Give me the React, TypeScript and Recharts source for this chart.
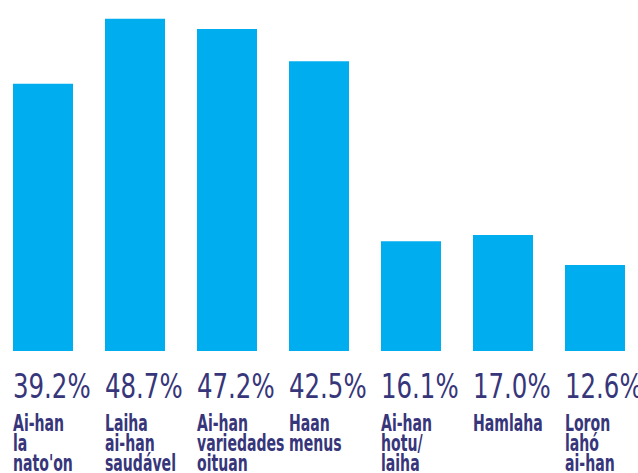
import { BarChart, Bar, XAxis, YAxis } from "recharts";

const categories = ["nato", "saudavel", "variedades", "menus", "hotu", "hamlaha", "loron"];
const shares = [39.2, 48.7, 47.2, 42.5, 16.1, 17.0, 12.6];
const labelLines = [
  ["Ai-han", "la", "nato'on"],
  ["Laiha", "ai-han", "saudável"],
  ["Ai-han", "variedades", "oituan"],
  ["Haan", "menus"],
  ["Ai-han", "hotu/", "laiha"],
  ["Hamlaha"],
  ["Loron", "lahó", "ai-han"],
];

const data = categories.map((c, i) => ({ key: c, value: shares[i], lines: labelLines[i] }));

const BAR_W = 60;
const TEXT = "#37367a";
const FONT = "'DejaVu Sans Condensed', 'Liberation Sans Narrow', sans-serif";

// the source uses a very narrow typeface, so squeeze the text horizontally
function Tick(props: any) {
  const { x, y, index } = props;
  const d = data[index];
  const left = x - BAR_W / 2;
  return (
    <g>
      <text
        transform={`translate(${left},${y + 47}) scale(0.8,1)`}
        fontSize={34}
        fill={TEXT}
        fontFamily={FONT}
        textAnchor="start"
      >
        {d.value.toFixed(1)}%
      </text>
      {d.lines.map((ln, i) => (
        <text
          key={i}
          transform={`translate(${left},${y + 80 + i * 20}) scale(0.68,1)`}
          fontSize={23}
          fontWeight="bold"
          fill={TEXT}
          fontFamily={FONT}
          textAnchor="start"
        >
          {ln}
        </text>
      ))}
    </g>
  );
}

export default function App() {
  return (
    <div style={{ position: "absolute", left: -3, top: 0, background: "#fff" }}>
      <BarChart
        width={644}
        height={473}
        data={data}
        margin={{ top: 10, right: 0, left: 0, bottom: 0 }}
        barSize={BAR_W}
      >
        <XAxis
          dataKey="key"
          height={122}
          axisLine={false}
          tickLine={false}
          tickSize={0}
          tickMargin={0}
          interval={0}
          tick={<Tick />}
        />
        <YAxis hide domain={[0, 50]} />
        <Bar dataKey="value" fill="#00aeef" isAnimationActive={false} />
      </BarChart>
    </div>
  );
}
